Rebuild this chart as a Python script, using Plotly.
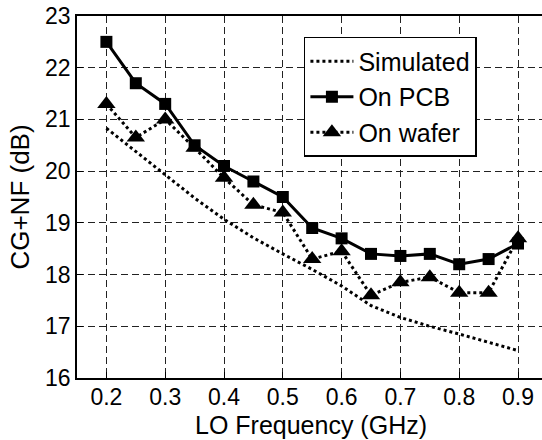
import plotly.graph_objects as go

# LO frequency (GHz)
freq = [0.2, 0.25, 0.3, 0.35, 0.4, 0.45, 0.5, 0.55, 0.6, 0.65, 0.7, 0.75, 0.8, 0.85, 0.9]

# CG+NF (dB)
simulated = [20.83, 20.38, 19.92, 19.48, 19.07, 18.71, 18.4, 18.1, 17.78, 17.4, 17.17, 17.0, 16.85, 16.69, 16.53]
on_pcb = [22.5, 21.7, 21.3, 20.5, 20.1, 19.8, 19.5, 18.9, 18.7, 18.4, 18.36, 18.4, 18.2, 18.3, 18.6]
on_wafer = [21.3, 20.65, 21.0, 20.45, 19.87, 19.35, 19.2, 18.3, 18.45, 17.6, 17.85, 17.95, 17.65, 17.65, 18.7]

x_ticks = [0.2, 0.3, 0.4, 0.5, 0.6, 0.7, 0.8, 0.9]
y_ticks = [16, 17, 18, 19, 20, 21, 22, 23]

FONT = "Liberation Sans, Arial, sans-serif"

fig = go.Figure()
fig.add_trace(go.Scatter(x=freq, y=simulated, name="Simulated", mode="lines",
                         line=dict(color="black", width=3, dash="dot")))
fig.add_trace(go.Scatter(x=freq, y=on_pcb, name="On PCB", mode="lines+markers",
                         line=dict(color="black", width=3),
                         marker=dict(symbol="square", size=12, color="black")))
fig.add_trace(go.Scatter(x=freq, y=on_wafer, name="On wafer", mode="lines+markers",
                         line=dict(color="black", width=3, dash="dot"),
                         marker=dict(symbol="triangle-up", size=16, color="black")))

grid = dict(showgrid=True, gridcolor="#222", gridwidth=1, griddash="7px,4px")

fig.update_xaxes(range=[0.15, 0.9408], tickvals=x_ticks, ticktext=[f"{v:.1f}" for v in x_ticks],
                 showline=True, linecolor="black", linewidth=1.5, mirror=True,
                 ticks="inside", ticklen=6, tickcolor="black", automargin=False,
                 tickfont=dict(size=23, color="black", family=FONT), ticklabelstandoff=-2,
                 zeroline=False, **grid)
fig.update_yaxes(range=[16, 23], tickvals=y_ticks,
                 showline=True, linecolor="black", linewidth=1.5, mirror=False,
                 ticks="inside", ticklen=6, tickcolor="black", automargin=False,
                 tickfont=dict(size=23, color="black", family=FONT),
                 title=dict(text="CG+NF (dB)", font=dict(size=26, color="black", family=FONT),
                            standoff=8),
                 zeroline=False, **grid)

# x title as an annotation so it sits just under the tick labels
fig.add_annotation(text="LO Frequency (GHz)", xref="paper", yref="paper",
                   x=(311 - 77) / 465, y=0, yshift=-47, showarrow=False,
                   xanchor="center", yanchor="middle",
                   font=dict(size=25, color="black", family=FONT))

fig.update_layout(width=542, height=440, plot_bgcolor="white", paper_bgcolor="white",
                  margin=dict(l=77, r=0, t=16, b=62),
                  font=dict(family=FONT, color="black"),
                  legend=dict(x=0.488, y=0.942, xanchor="left", yanchor="top",
                              bgcolor="white", bordercolor="black", borderwidth=1.5,
                              font=dict(size=25, color="black", family=FONT),
                              tracegroupgap=0, itemwidth=43))

# drop the default 8px page margin so the figure sits at the window's corner
fig.write_html("out.html", config={"displayModeBar": False},
               post_script="document.body.style.margin='0';")
